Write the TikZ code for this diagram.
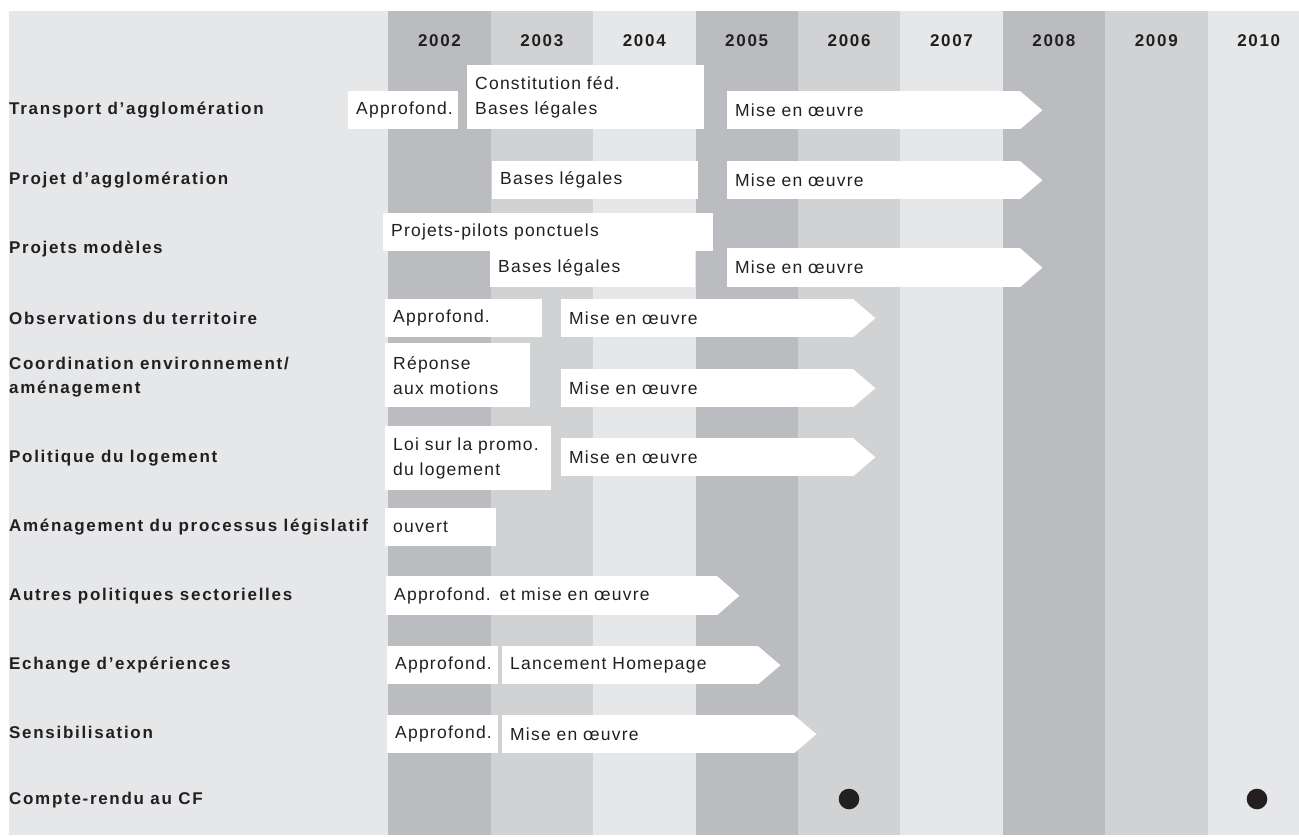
\documentclass[tikz,border=0pt]{standalone}
\usepackage{fontspec}
\setmainfont{Liberation Sans}[LetterSpace=7]
\newfontfamily\headfont{Liberation Sans}[LetterSpace=10]
\usepackage{tikz}
\definecolor{colA}{HTML}{BBBCC0}
\definecolor{colB}{HTML}{D1D2D4}
\definecolor{colC}{HTML}{E6E7E9}
\definecolor{ink}{HTML}{231F20}
\tikzstyle{box}=[fill=white, anchor=north west, inner xsep=8pt, inner ysep=0pt, align=left, text=ink, font=\fontsize{17.5}{25}\selectfont]
\tikzstyle{lbl}=[anchor=west, inner sep=0pt, align=left, text=ink, font=\headfont\bfseries\fontsize{17}{24}\selectfont]
\tikzstyle{yr}=[inner sep=0pt, text=ink, font=\headfont\bfseries\fontsize{17}{20}\selectfont]
\tikzstyle{dot}=[circle, fill=ink, inner sep=0pt, minimum size=20.6pt]

\begin{document}
\begin{tikzpicture}[x=1pt,y=-1pt]
\useasboundingbox (0,0) rectangle (1299,836);
\fill[white] (0,0) rectangle (1299,836);
\fill[colC] (9,11) rectangle (1299,835);
\foreach \i/\yr/\col in {0/2002/colA,1/2003/colB,2/2004/colC,3/2005/colA,4/2006/colB,5/2007/colC,6/2008/colA,7/2009/colB,8/2010/colC} % year columns
{
\fill[\col] (388.3+102.4*\i,11) rectangle (490.7+102.4*\i,835);
\node[yr] (y\yr) at (439.5+102.4*\i,41) {\yr};
}
% row labels
\node[lbl] (r1) at (9,110) {Transport d’agglomération};
\node[lbl] (r2) at (9,180) {Projet d’agglomération};
\node[lbl] (r3) at (9,249) {Projets modèles};
\node[lbl] (r4) at (9,318) {Observations du territoire};
\node[lbl] (r5) at (9,377) {Coordination environnement/\\aménagement};
\node[lbl] (r6) at (9,458) {Politique du logement};
\node[lbl] (r7) at (9,527) {Aménagement du processus législatif};
\node[lbl] (r8) at (9,596) {Autres politiques sectorielles};
\node[lbl] (r9) at (9,665) {Echange d’expériences};
\node[lbl] (r10) at (9,732) {Sensibilisation};
\node[lbl] (r11) at (9,800) {Compte-rendu au CF};
% boxes
\node[box, text width=94pt, minimum height=38pt] (t1a) at (348,91) {Approfond.};
\node[box, text width=221pt, minimum height=64pt] (t1b) at (467,65) {Constitution féd.\\Bases légales};
\node[box, text width=277pt, minimum height=38pt] (t1c) at (727,91) {Mise en œuvre};
\node[box, text width=190pt, minimum height=38pt] (p2a) at (492,161) {Bases légales};
\node[box, text width=277pt, minimum height=38pt] (p2b) at (727,161) {Mise en œuvre};
\node[box, text width=314pt, minimum height=38pt] (m3a) at (383,213) {Projets-pilots ponctuels};
\node[box, text width=189pt, minimum height=39pt] (m3b) at (490,248) {Bases légales};
\node[box, text width=277pt, minimum height=39pt] (m3c) at (727,248) {Mise en œuvre};
\node[box, text width=141pt, minimum height=38pt] (o4a) at (385,299) {Approfond.};
\node[box, text width=276pt, minimum height=38pt] (o4b) at (561,299) {Mise en œuvre};
\node[box, text width=129pt, minimum height=64pt] (c5a) at (385,343) {Réponse\\aux motions};
\node[box, text width=276pt, minimum height=38pt] (c5b) at (561,369) {Mise en œuvre};
\node[box, text width=150pt, minimum height=64pt] (l6a) at (385,426) {Loi sur la promo.\\du logement};
\node[box, text width=276pt, minimum height=38pt] (l6b) at (561,438) {Mise en œuvre};
\node[box, text width=95pt, minimum height=38pt] (a7a) at (385,508) {ouvert};
\node[box, text width=315pt, minimum height=39pt] (s8a) at (386,576) {Approfond. et mise en œuvre};
\node[box, text width=95pt, minimum height=38pt] (e9a) at (387,646) {Approfond.};
\node[box, text width=240pt, minimum height=38pt] (e9b) at (502,646) {Lancement Homepage};
\node[box, text width=95pt, minimum height=38pt] (n10a) at (387,715) {Approfond.};
\node[box, text width=276pt, minimum height=38pt] (n10b) at (502,715) {Mise en œuvre};
% arrow tips
\foreach \n in {t1c,p2b,m3c,o4b,c5b,l6b,s8a,e9b,n10b}
\fill[white] ([xshift=-0.5pt]\n.north east) -- ([xshift=22pt]\n.east) -- ([xshift=-0.5pt]\n.south east) -- cycle;
% reports
\node[dot] (d1) at (849,799) {};
\node[dot] (d2) at (1257,799) {};
\end{tikzpicture}
\end{document}
